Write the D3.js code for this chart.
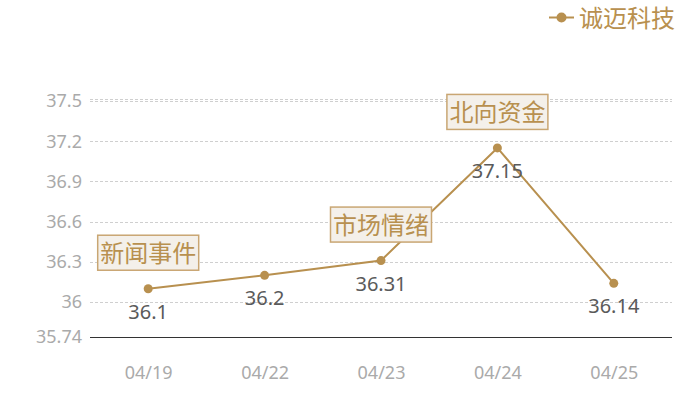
<!DOCTYPE html>
<html>
<head>
<meta charset="utf-8">
<script src="https://cdn.jsdelivr.net/npm/d3@7/dist/d3.min.js"></script>
<style>
  body { margin: 0; background: #fff; }
  text { font-family: "Noto Sans", "Noto Sans CJK SC", sans-serif; }
</style>
</head>
<body>
<svg id="chart" width="700" height="400"></svg>
<script>
(function () {

  // data
  var dates = ["04/19", "04/22", "04/23", "04/24", "04/25"];
  var prices = [36.1, 36.2, 36.31, 37.15, 36.14];
  var yTicks = [35.74, 36, 36.3, 36.6, 36.9, 37.2, 37.5];
  var noteDates = ["04/19", "04/23", "04/24"];
  var noteTexts = ["新闻事件", "市场情绪", "北向资金"];
  var seriesName = "诚迈科技";

  var gold = "#b8904f";
  var font = '"Noto Sans", "Noto Sans CJK SC", sans-serif';
  var left = 90, right = 672, top = 101, bottom = 337;

  var svg = d3.select("#chart");

  var x = d3.scalePoint()
    .domain(dates)
    .range([left, right])
    .padding(0.5);

  var y = d3.scaleLinear()
    .domain([35.74, 37.5])
    .range([bottom, top]);

  // grid lines (skip the bottom one, that's the axis)
  svg.append("g")
    .selectAll("line")
    .data(yTicks.slice(1))
    .enter()
      .append("line")
      .attr("x1", left)
      .attr("x2", right)
      .attr("y1", function (d) { return Math.round(y(d)) + 0.5; })
      .attr("y2", function (d) { return Math.round(y(d)) + 0.5; })
      .attr("stroke", "#cfcfcf")
      .attr("stroke-dasharray", "3,2");

  // the top line looks doubled in the reference
  svg.append("line")
    .attr("x1", left).attr("x2", right)
    .attr("y1", Math.round(y(37.5)) - 1.5)
    .attr("y2", Math.round(y(37.5)) - 1.5)
    .attr("stroke", "#cfcfcf")
    .attr("stroke-dasharray", "3,2");

  // y tick labels
  svg.append("g")
    .selectAll("text")
    .data(yTicks)
    .enter()
      .append("text")
      .attr("x", left - 8)
      .attr("y", function (d) { return y(d); })
      .attr("dy", "0.35em")
      .attr("text-anchor", "end")
      .attr("font-size", 18)
      .attr("fill", "#aaaaaa")
      .text(function (d) { return d; });

  // x axis
  var xAxis = svg.append("g")
    .attr("transform", "translate(0," + (bottom + 0.5) + ")")
    .call(d3.axisBottom(x).tickSize(0).tickPadding(29));
  xAxis.select(".domain")
    .attr("d", "M" + left + ",0H" + right)
    .attr("stroke", "#333");
  xAxis.selectAll("text")
    .attr("font-size", 18)
    .attr("fill", "#aaaaaa")
    .style("font-family", font);

  var pts = dates.map(function (d, i) { return { date: d, v: prices[i] }; });

  var line = d3.line()
    .x(function (d) { return x(d.date); })
    .y(function (d) { return y(d.v); });

  svg.append("path")
    .datum(pts)
    .attr("d", line)
    .attr("fill", "none")
    .attr("stroke", gold)
    .attr("stroke-width", 2);

  svg.append("g")
    .selectAll("circle")
    .data(pts)
    .enter()
      .append("circle")
      .attr("cx", function (d) { return x(d.date); })
      .attr("cy", function (d) { return y(d.v); })
      .attr("r", 4.5)
      .attr("fill", gold);

  // value labels under the points
  svg.append("g")
    .selectAll("text")
    .data(pts)
    .enter()
      .append("text")
      .attr("x", function (d) { return x(d.date); })
      .attr("y", function (d) { return y(d.v) + 30; })
      .attr("text-anchor", "middle")
      .attr("font-size", 20)
      .attr("fill", "#5a5a5a")
      .text(function (d) { return d.v; });

  // annotation boxes
  var notes = svg.append("g")
    .selectAll("g")
    .data(noteDates.map(function (d, i) {
      return { date: d, text: noteTexts[i], v: prices[dates.indexOf(d)] };
    }))
    .enter()
      .append("g")
      .attr("transform", function (d) {
        return "translate(" + x(d.date) + "," + (y(d.v) - 18) + ")";
      });

  notes.append("rect")
    .attr("x", -50.5)
    .attr("y", -35.5)
    .attr("width", 101)
    .attr("height", 35)
    .attr("fill", "#f4f0ea")
    .attr("stroke", "#c9a673")
    .attr("stroke-width", 1.5);

  notes.append("text")
    .attr("x", 0)
    .attr("y", -9)
    .attr("text-anchor", "middle")
    .attr("font-size", 24)
    .attr("fill", gold)
    .text(function (d) { return d.text; });

  // legend
  var legend = svg.append("g");
  legend.append("line")
    .attr("x1", 549).attr("x2", 574)
    .attr("y1", 17.5).attr("y2", 17.5)
    .attr("stroke", gold)
    .attr("stroke-width", 2);
  legend.append("circle")
    .attr("cx", 561.5).attr("cy", 17.5).attr("r", 5)
    .attr("fill", gold);
  legend.append("text")
    .attr("x", 579)
    .attr("y", 27)
    .attr("font-size", 24)
    .attr("fill", gold)
    .text(seriesName);

})();
</script>
</body>
</html>
